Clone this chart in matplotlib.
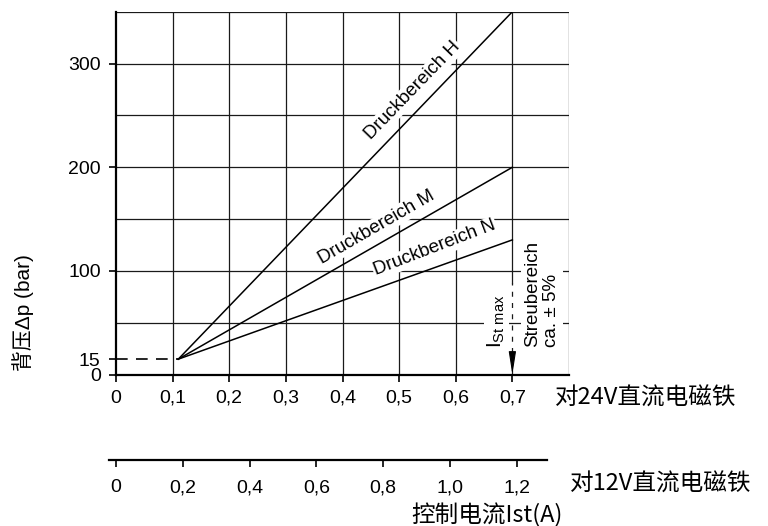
import numpy as np
import matplotlib
matplotlib.use('Agg')
import matplotlib.pyplot as plt

plt.rcParams['font.family'] = ['Liberation Sans', 'Noto Sans CJK SC', 'DejaVu Sans']
plt.rcParams['mathtext.fontset'] = 'custom'
plt.rcParams['mathtext.rm'] = 'Liberation Sans'
plt.rcParams['mathtext.it'] = 'Liberation Sans'

# data
i_start = 0.11          # A (24V), where the curves begin
p_start = 15            # bar
i_end = 0.7             # A (24V), I_St max
ranges = ['H', 'M', 'N']
p_end = [350, 200, 130]  # bar at I_St max

x24_ticks = [0, 0.1, 0.2, 0.3, 0.4, 0.5, 0.6, 0.7]
x24_labels = ['0', '0,1', '0,2', '0,3', '0,4', '0,5', '0,6', '0,7']
x12_ticks = [0, 0.2, 0.4, 0.6, 0.8, 1.0, 1.2]
x12_labels = ['0', '0,2', '0,4', '0,6', '0,8', '1,0', '1,2']
y_ticks = [0, 15, 100, 200, 300]
y_labels = ['0', '15', '100', '200', '300']

# label placement (current, pressure, angle)
label_pos = {'H': (0.524, 274, 46), 'M': (0.46, 142, 30), 'N': (0.563, 122, 21)}

W, H = 768, 526
fig = plt.figure(figsize=(W / 100, H / 100), dpi=100)
ax = fig.add_axes([116 / W, 1 - 374.7 / H, 453 / W, (374.7 - 11.7) / H])
ax.set_xlim(0, 0.8)
ax.set_ylim(0, 350)

grid_kw = dict(color='#1a1a1a', lw=0.9, zorder=1)
for gx in [0.1, 0.2, 0.3, 0.4, 0.5, 0.6, 0.8]:
    ax.axvline(gx, **grid_kw)
for gy in [50, 100, 150, 200, 250, 300, 350]:
    ax.axhline(gy, **grid_kw)
# scatter band at I_St max: solid above, broken below
ax.plot([0.7, 0.7], [88, 350], **grid_kw)
ax.plot([0.7, 0.7], [0, 88], color='#1a1a1a', lw=0.9, ls=(0, (4, 5)), zorder=1)

for s in ['top', 'right']:
    ax.spines[s].set_visible(False)
for s in ['left', 'bottom']:
    ax.spines[s].set_linewidth(1.6)

ax.plot([0, i_start], [p_start, p_start], color='black', lw=1.2,
        ls=(0, (7, 5)), zorder=4)
for name, pe in zip(ranges, p_end):
    ax.plot([i_start, i_end], [p_start, pe], color='black', lw=1.1, zorder=4)
    lx, ly, rot = label_pos[name]
    ax.text(lx, ly, 'Druckbereich ' + name, rotation=rot, ha='center', va='center',
            fontsize=13.5, rotation_mode='anchor', zorder=3,
            bbox=dict(facecolor='white', edgecolor='none', pad=1))

ax.annotate('', xy=(0.7, 0), xytext=(0.7, 21),
            arrowprops=dict(arrowstyle='-|>,head_length=1.4,head_width=0.22',
                            color='black', lw=0.8, shrinkA=0, shrinkB=0), zorder=5)
ax.text(0.672, 25.6, r'$\mathrm{I}_{\mathrm{St\ max}}$', rotation=90, ha='center',
        va='bottom', fontsize=15, zorder=3,
        bbox=dict(facecolor='white', edgecolor='none', pad=1))
ax.text(0.752, 26.6, 'Streubereich\nca. ± 5%', rotation=90, ha='center', va='bottom',
        multialignment='left', fontsize=13.5, linespacing=1.15, zorder=3,
        bbox=dict(facecolor='white', edgecolor='none', pad=2))

ax.set_xticks(x24_ticks, x24_labels)
ax.set_yticks(y_ticks, y_labels)
ax.tick_params(axis='both', direction='out', length=5, width=1.2, labelsize=14,
               colors='black')
ax.tick_params(axis='x', pad=6)
ax.tick_params(axis='y', pad=6)

# second current scale for 12V solenoids
ppu = 334.0
ax2 = fig.add_axes([109 / W, 1 - 460 / H, 438 / W, 0.0001])
ax2.set_xlim(-7 / ppu, 431 / ppu)
ax2.set_yticks([])
for s in ['top', 'right', 'left']:
    ax2.spines[s].set_visible(False)
ax2.spines['bottom'].set_linewidth(1.6)
ax2.patch.set_visible(False)
ax2.set_xticks(x12_ticks, x12_labels)
ax2.tick_params(axis='x', direction='out', length=5, width=1.2, labelsize=14, pad=9)

cjk = ['Noto Sans CJK SC', 'DejaVu Sans']
fig.text(555 / W, 1 - 398 / H, '对24V直流电磁铁', ha='left', va='center',
         fontsize=17, family=cjk)
fig.text(570 / W, 1 - 484 / H, '对12V直流电磁铁', ha='left', va='center',
         fontsize=17, family=cjk)
fig.text(487 / W, 1 - 515 / H, '控制电流Ist(A)', ha='center', va='center',
         fontsize=17, family=cjk)
fig.text(23 / W, 1 - 313 / H, '背压Δp (bar)', rotation=90, ha='center', va='center',
         fontsize=15)

fig.savefig('out.png', dpi=100)
